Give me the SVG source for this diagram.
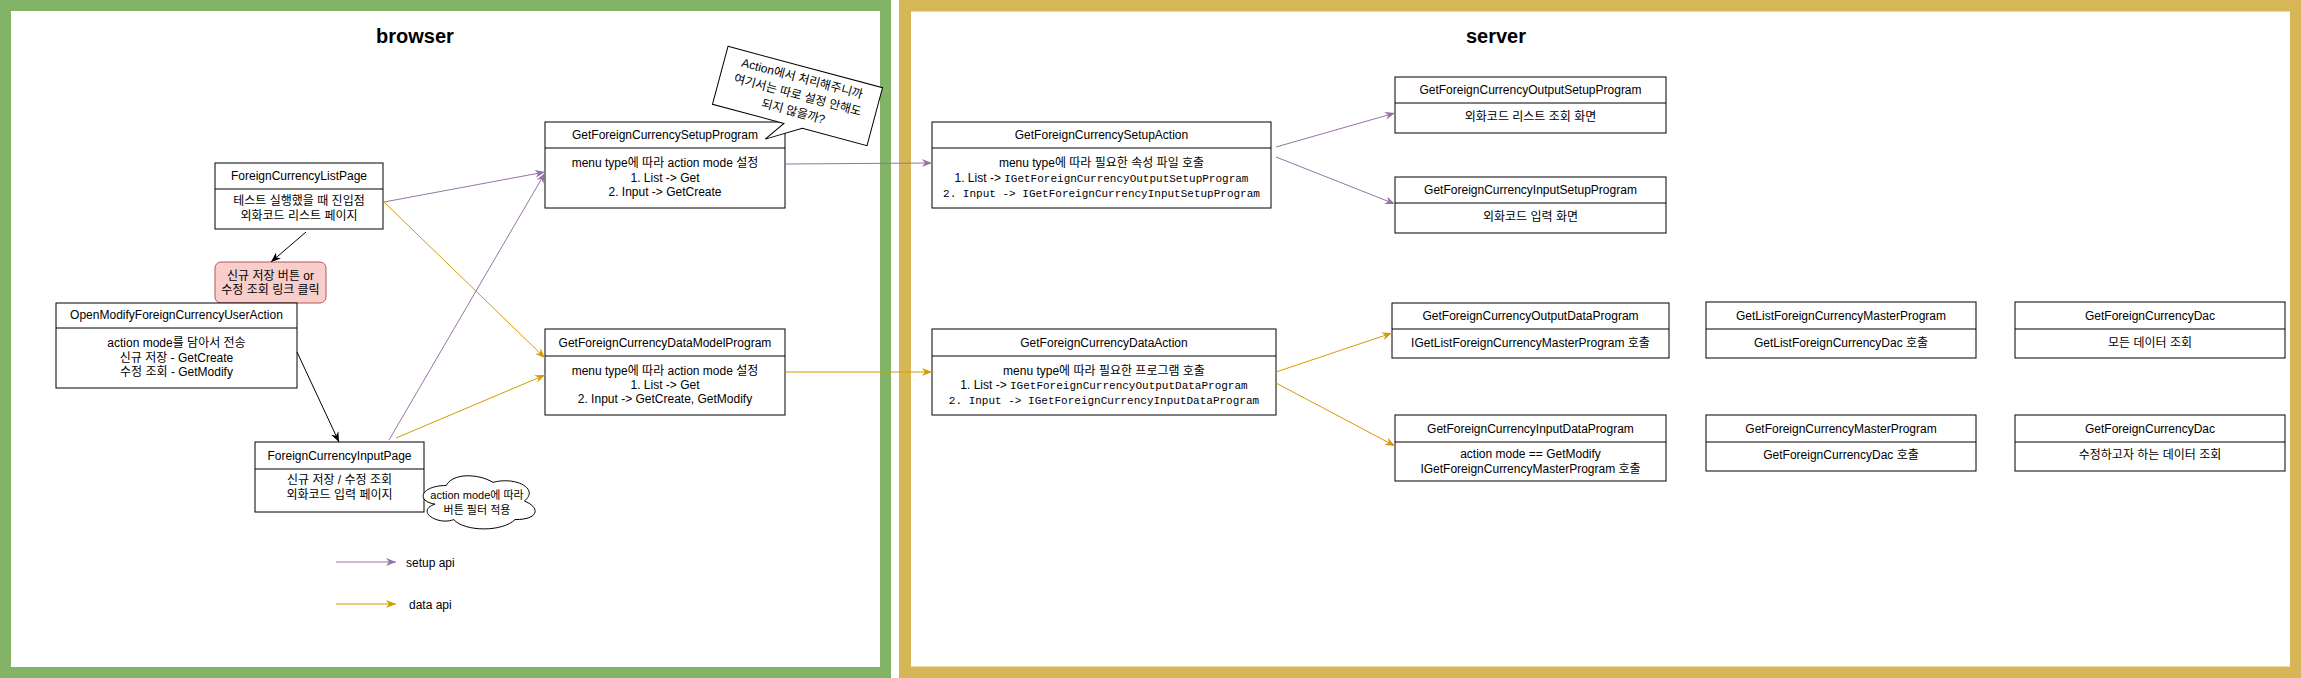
<svg xmlns="http://www.w3.org/2000/svg" width="2301" height="678" viewBox="0 0 2301 678">
<style>
text{font-family:"Liberation Sans",Arial,"Noto Sans CJK KR",sans-serif;font-size:12px;fill:#000;text-anchor:middle}
.mono{font-family:"Liberation Mono","Courier New","Noto Sans CJK KR",monospace;font-size:11px}
.big{font-size:20px;font-weight:bold}
.sm{font-size:11px}
.box{fill:#fff;stroke:#000;stroke-width:1}
.sep{stroke:#000;stroke-width:1}
.blk{stroke:#000;stroke-width:1;fill:none;marker-end:url(#aBlk)}
.pur{stroke:#9673a6;stroke-width:1;fill:none;marker-end:url(#aPur)}
.org{stroke:#d79b00;stroke-width:1;fill:none;marker-end:url(#aOrg)}
.lg{text-anchor:start}
</style>
<defs>
<marker id="aBlk" markerUnits="userSpaceOnUse" markerWidth="12" markerHeight="10" refX="10" refY="4" orient="auto"><path d="M0,0 L10,4 L0,8 L3,4 Z" fill="#000"/></marker>
<marker id="aPur" markerUnits="userSpaceOnUse" markerWidth="12" markerHeight="10" refX="10" refY="4" orient="auto"><path d="M0,0 L10,4 L0,8 L3,4 Z" fill="#9673a6"/></marker>
<marker id="aOrg" markerUnits="userSpaceOnUse" markerWidth="12" markerHeight="10" refX="10" refY="4" orient="auto"><path d="M0,0 L10,4 L0,8 L3,4 Z" fill="#d79b00"/></marker>
</defs>
<rect width="2301" height="678" fill="#fff"/>

<g id="browser">
<rect x="5.5" y="5.5" width="880" height="667" fill="#fff" stroke="#82b366" stroke-width="11"/>
<text class="big" x="415" y="43">browser</text>
</g>
<g id="server">
<rect x="905" y="5.5" width="1391" height="667" fill="#fff" stroke="#d6b656" stroke-width="12"/>
<text class="big" x="1496" y="43">server</text>
</g>

<g id="ForeignCurrencyListPage">
<rect class="box" x="215" y="163" width="168" height="66"/>
<line class="sep" x1="215" y1="189" x2="383" y2="189"/>
<text x="299" y="180">ForeignCurrencyListPage</text>
<text x="299" y="205">테스트 실행했을 때 진입점</text>
<text x="299" y="220">외화코드 리스트 페이지</text>
</g>

<g id="click">
<rect x="215" y="262" width="111" height="41" rx="6" fill="#f8cecc" stroke="#b85450"/>
<text x="270.5" y="280">신규 저장 버튼 or</text>
<text x="270.5" y="294">수정 조회 링크 클릭</text>
</g>

<g id="OpenModifyForeignCurrencyUserAction">
<rect class="box" x="56" y="303" width="241" height="85"/>
<line class="sep" x1="56" y1="328" x2="297" y2="328"/>
<text x="176.5" y="319">OpenModifyForeignCurrencyUserAction</text>
<text x="176.5" y="347">action mode를 담아서 전송</text>
<text x="176.5" y="362">신규 저장 - GetCreate</text>
<text x="176.5" y="376">수정 조회 - GetModify</text>
</g>

<g id="ForeignCurrencyInputPage">
<rect class="box" x="255" y="442" width="169" height="70"/>
<line class="sep" x1="255" y1="469" x2="424" y2="469"/>
<text x="339.5" y="460">ForeignCurrencyInputPage</text>
<text x="339.5" y="484">신규 저장 / 수정 조회</text>
<text x="339.5" y="499">외화코드 입력 페이지</text>
</g>

<g id="cloud">
<path d="M446.25,485.5 C421.25,485.5 415,501 435,504.1 C415,511 437.5,525.8 453.75,519.6 C465,532 502.5,532 515,519.6 C540,519.6 540,507.2 524.4,501 C540,488.6 515,476.2 493.1,482.4 C477.5,473.1 452.5,473.1 446.25,485.5 Z" fill="#fff" stroke="#000"/>
<text class="sm" x="477" y="499">action mode에 따라</text>
<text class="sm" x="477" y="514">버튼 필터 적용</text>
</g>

<g id="GetForeignCurrencySetupProgram">
<rect class="box" x="545" y="122" width="240" height="86"/>
<line class="sep" x1="545" y1="148" x2="785" y2="148"/>
<text x="665" y="139">GetForeignCurrencySetupProgram</text>
<text x="665" y="167">menu type에 따라 action mode 설정</text>
<text x="665" y="182">1. List -&gt; Get</text>
<text x="665" y="196">2. Input -&gt; GetCreate</text>
</g>

<g id="callout" transform="translate(797.5,96) rotate(15)">
<path d="M-80,-30 L80,-30 L80,30 L13,30 L-20,50 L-6,30 L-80,30 Z" fill="#fff" stroke="#000"/>
<text x="0" y="-14">Action에서 처리해주니까</text>
<text x="0" y="3">여기서는 따로 설정 안해도</text>
<text x="0" y="20">되지 않을까?</text>
</g>

<g id="GetForeignCurrencyDataModelProgram">
<rect class="box" x="545" y="329" width="240" height="86"/>
<line class="sep" x1="545" y1="356" x2="785" y2="356"/>
<text x="665" y="347">GetForeignCurrencyDataModelProgram</text>
<text x="665" y="375">menu type에 따라 action mode 설정</text>
<text x="665" y="389">1. List -&gt; Get</text>
<text x="665" y="403">2. Input -&gt; GetCreate, GetModify</text>
</g>

<g id="GetForeignCurrencySetupAction">
<rect class="box" x="932" y="122" width="339" height="86"/>
<line class="sep" x1="932" y1="148" x2="1271" y2="148"/>
<text x="1101.5" y="139">GetForeignCurrencySetupAction</text>
<text x="1101.5" y="167">menu type에 따라 필요한 속성 파일 호출</text>
<text x="1101.5" y="182">1. List -&gt; <tspan class="mono">IGetForeignCurrencyOutputSetupProgram</tspan></text>
<text class="mono" x="1101.5" y="197">2. Input -&gt; IGetForeignCurrencyInputSetupProgram</text>
</g>

<g id="GetForeignCurrencyDataAction">
<rect class="box" x="932" y="329" width="344" height="86"/>
<line class="sep" x1="932" y1="356" x2="1276" y2="356"/>
<text x="1104" y="347">GetForeignCurrencyDataAction</text>
<text x="1104" y="375">menu type에 따라 필요한 프로그램 호출</text>
<text x="1104" y="389">1. List -&gt; <tspan class="mono">IGetForeignCurrencyOutputDataProgram</tspan></text>
<text class="mono" x="1104" y="404">2. Input -&gt; IGetForeignCurrencyInputDataProgram</text>
</g>

<g id="GetForeignCurrencyOutputSetupProgram">
<rect class="box" x="1395" y="77" width="271" height="56"/>
<line class="sep" x1="1395" y1="103" x2="1666" y2="103"/>
<text x="1530.5" y="94">GetForeignCurrencyOutputSetupProgram</text>
<text x="1530.5" y="121">외화코드 리스트 조회 화면</text>
</g>

<g id="GetForeignCurrencyInputSetupProgram">
<rect class="box" x="1395" y="177" width="271" height="56"/>
<line class="sep" x1="1395" y1="203" x2="1666" y2="203"/>
<text x="1530.5" y="194">GetForeignCurrencyInputSetupProgram</text>
<text x="1530.5" y="221">외화코드 입력 화면</text>
</g>

<g id="GetForeignCurrencyOutputDataProgram">
<rect class="box" x="1392" y="303" width="277" height="55"/>
<line class="sep" x1="1392" y1="329" x2="1669" y2="329"/>
<text x="1530.5" y="320">GetForeignCurrencyOutputDataProgram</text>
<text x="1530.5" y="347">IGetListForeignCurrencyMasterProgram 호출</text>
</g>

<g id="GetForeignCurrencyInputDataProgram">
<rect class="box" x="1395" y="415" width="271" height="66"/>
<line class="sep" x1="1395" y1="442" x2="1666" y2="442"/>
<text x="1530.5" y="433">GetForeignCurrencyInputDataProgram</text>
<text x="1530.5" y="458">action mode == GetModify</text>
<text x="1530.5" y="473">IGetForeignCurrencyMasterProgram 호출</text>
</g>

<g id="GetListForeignCurrencyMasterProgram">
<rect class="box" x="1706" y="302" width="270" height="56"/>
<line class="sep" x1="1706" y1="329" x2="1976" y2="329"/>
<text x="1841" y="320">GetListForeignCurrencyMasterProgram</text>
<text x="1841" y="347">GetListForeignCurrencyDac 호출</text>
</g>

<g id="GetForeignCurrencyDac1">
<rect class="box" x="2015" y="302" width="270" height="56"/>
<line class="sep" x1="2015" y1="329" x2="2285" y2="329"/>
<text x="2150" y="320">GetForeignCurrencyDac</text>
<text x="2150" y="347">모든 데이터 조회</text>
</g>

<g id="GetForeignCurrencyMasterProgram">
<rect class="box" x="1706" y="415" width="270" height="56"/>
<line class="sep" x1="1706" y1="442" x2="1976" y2="442"/>
<text x="1841" y="433">GetForeignCurrencyMasterProgram</text>
<text x="1841" y="459">GetForeignCurrencyDac 호출</text>
</g>

<g id="GetForeignCurrencyDac2">
<rect class="box" x="2015" y="415" width="270" height="56"/>
<line class="sep" x1="2015" y1="442" x2="2285" y2="442"/>
<text x="2150" y="433">GetForeignCurrencyDac</text>
<text x="2150" y="459">수정하고자 하는 데이터 조회</text>
</g>

<g id="legend">
<line class="pur" x1="336" y1="562" x2="396" y2="562"/>
<text class="lg" x="406" y="567">setup api</text>
<line class="org" x1="336" y1="604" x2="396" y2="604"/>
<text class="lg" x="409" y="609">data api</text>
</g>

<g id="connectors">
<line class="blk" x1="306" y1="232" x2="271" y2="262"/>
<line class="blk" x1="297" y1="352" x2="339" y2="442"/>
<line class="pur" x1="384" y1="202" x2="545" y2="172"/>
<line class="org" x1="384" y1="202" x2="545" y2="358"/>
<line class="pur" x1="389" y1="440" x2="545" y2="173"/>
<line class="org" x1="396" y1="438" x2="545" y2="375"/>
<line class="pur" x1="785" y1="164" x2="932" y2="163"/>
<line class="org" x1="785" y1="372" x2="932" y2="372"/>
<line class="pur" x1="1276" y1="147" x2="1395" y2="113"/>
<line class="pur" x1="1276" y1="157" x2="1395" y2="204"/>
<line class="org" x1="1276" y1="372" x2="1392" y2="333"/>
<line class="org" x1="1276" y1="383" x2="1395" y2="446"/>
</g>
</svg>
